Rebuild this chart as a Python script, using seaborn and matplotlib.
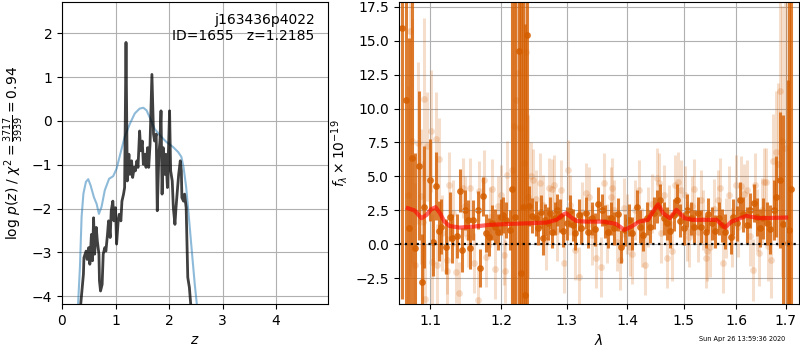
import matplotlib
matplotlib.use("Agg")
import matplotlib.pyplot as plt
import seaborn as sns
from matplotlib.ticker import MultipleLocator, ScalarFormatter, NullLocator

# --- p(z) panel -------------------------------------------------------------
z_coarse = [0.28, 0.30, 0.335, 0.366, 0.40, 0.447, 0.49, 0.534, 0.596, 0.646,
            0.69, 0.739, 0.80, 0.88, 0.957, 1.02, 1.09, 1.17, 1.27, 1.36,
            1.45, 1.52, 1.58, 1.65, 1.73, 1.83, 1.95, 2.07, 2.17, 2.23,
            2.27, 2.32, 2.37, 2.43, 2.48, 2.52, 2.55]
logpz_coarse = [-5.0, -4.19, -3.34, -2.19, -1.66, -1.39, -1.33, -1.47, -1.74, -1.89,
                -2.12, -1.96, -1.58, -1.32, -1.26, -1.09, -0.75, -0.37, -0.06, 0.17,
                0.28, 0.30, 0.24, 0.05, -0.18, -0.33, -0.48, -0.59, -0.71, -0.82,
                -1.05, -1.51, -2.19, -3.03, -3.72, -4.19, -5.0]

z_fine = [0.34, 0.35, 0.40, 0.41, 0.45, 0.47, 0.50, 0.52, 0.55, 0.57,
          0.59, 0.61, 0.64, 0.66, 0.69, 0.70, 0.72, 0.75, 0.77, 0.80,
          0.82, 0.85, 0.87, 0.90, 0.92, 0.95, 0.97, 1.00, 1.02, 1.05,
          1.07, 1.10, 1.12, 1.15, 1.17, 1.196, 1.22, 1.25, 1.27, 1.30,
          1.32, 1.35, 1.37, 1.40, 1.42, 1.45, 1.47, 1.50, 1.52, 1.55,
          1.57, 1.60, 1.62, 1.645, 1.68, 1.71, 1.73, 1.76, 1.78, 1.81,
          1.83, 1.85, 1.87, 1.89, 1.92, 1.94, 1.97, 2.01, 2.03, 2.06,
          2.08, 2.11, 2.13, 2.16, 2.18, 2.21, 2.23, 2.24, 2.27, 2.29,
          2.32, 2.35, 2.38, 2.41, 2.43]
logpz_fine = [-5.5, -4.18, -3.50, -3.12, -2.97, -3.16, -2.89, -3.27, -2.59, -3.19,
              -2.21, -3.04, -2.43, -2.74, -3.04, -3.65, -3.88, -3.73, -3.04, -2.89,
              -2.97, -2.59, -2.28, -2.66, -2.05, -1.83, -2.28, -1.98, -2.81, -2.28,
              -2.13, -2.28, -1.83, -1.67, -1.52, 1.79, -1.37, -0.76, -1.22, -0.91,
              -1.29, -1.06, -1.14, -0.91, -1.06, -0.23, -0.68, -0.46, -0.99, -0.76,
              -1.06, -0.61, -1.06, -0.53, 1.06, -0.30, -0.46, -0.30, -2.05, -0.76,
              -0.46, 0.23, -1.67, -0.61, -1.22, -0.76, -1.52, 0.23, -1.14, -1.37,
              -1.98, -2.36, -1.98, -1.52, -1.22, -0.91, -1.14, -1.75, -1.83, -1.67,
              -1.98, -3.57, -3.80, -4.26, -5.5]

# --- spectrum panel ---------------------------------------------------------
wave_dark = [1.063, 1.068, 1.071, 1.075, 1.079, 1.085, 1.089, 1.092, 1.100, 1.104,
             1.107, 1.111, 1.115, 1.121, 1.127, 1.130, 1.137, 1.140, 1.143, 1.148,
             1.152, 1.155, 1.159, 1.166, 1.169, 1.173, 1.177, 1.182, 1.186, 1.190,
             1.195, 1.199, 1.203, 1.207, 1.212, 1.215, 1.220, 1.226, 1.229, 1.232,
             1.235, 1.238, 1.242, 1.246, 1.252, 1.255, 1.259, 1.262, 1.266, 1.270,
             1.274, 1.277, 1.281, 1.284, 1.289, 1.294, 1.300, 1.305, 1.310, 1.314,
             1.319, 1.323, 1.331, 1.334, 1.341, 1.346, 1.351, 1.357, 1.362, 1.367,
             1.373, 1.378, 1.384, 1.390, 1.397, 1.403, 1.408, 1.417, 1.422, 1.427,
             1.434, 1.440, 1.446, 1.452, 1.458, 1.464, 1.470, 1.476, 1.482, 1.488,
             1.494, 1.500, 1.506, 1.514, 1.520, 1.526, 1.533, 1.541, 1.546, 1.553,
             1.559, 1.567, 1.573, 1.579, 1.589, 1.594, 1.602, 1.608, 1.614, 1.621,
             1.627, 1.635, 1.641, 1.648, 1.654, 1.661, 1.667, 1.675, 1.680, 1.689,
             1.695, 1.704, 1.708, 1.711]
flux_dark = [15.95, 10.65, 1.18, 6.35, -0.30, 5.78, -2.76, 2.73, 4.75, 0.20,
             4.31, 1.00, 1.30, -0.17, 2.04, 0.44, 0.60, 3.96, -0.42, 2.53,
             1.79, -0.30, 1.79, 2.53, -1.78, 3.52, 0.85, 0.56, 1.60, 1.30,
             0.90, 2.00, 2.16, 1.79, 1.05, 4.06, 2.00, 14.22, -2.14, 2.78,
             -3.74, 15.38, 2.83, 2.10, 1.92, 1.18, 2.41, 0.44, 1.79, 1.55,
             2.29, 0.93, 1.90, 2.53, 2.10, 1.00, 1.55, 2.45, 1.43, 0.80,
             2.16, 1.20, 2.29, 0.90, 1.92, 1.10, 3.00, 2.53, 1.67, 0.93,
             1.90, 1.18, 2.20, -0.17, 1.05, 1.79, 0.81, 2.78, 1.30, 0.70,
             1.92, 1.30, 2.29, 2.78, 3.27, 1.90, 1.55, 0.95, 2.16, 3.27,
             1.75, 1.18, 2.50, 1.92, 1.30, 2.30, 1.30, 0.93, 2.20, 1.55,
             0.95, 1.92, 1.40, 0.93, 0.56, 2.00, 1.55, 3.27, 2.20, 1.43,
             2.50, 3.02, 2.00, 1.18, 1.90, 1.55, 1.10, 2.53, 3.50, 4.75,
             1.50, 0.07, 1.06, 4.06]
err_dark = [20, 20, 14, 12, 7, 5.5, 3.5, 4.5, 3.0, 2.5,
            2.5, 2.2, 2.0, 2.0, 1.8, 1.8, 1.6, 1.6, 1.6, 1.5,
            1.5, 1.5, 1.5, 1.4, 1.4, 1.4, 1.4, 1.4, 1.3, 1.3,
            1.3, 1.3, 1.3, 1.3, 1.5, 20, 20, 20, 20, 20,
            20, 20, 1.5, 1.3, 1.3, 1.2, 1.2, 1.2, 1.2, 1.2,
            1.2, 1.2, 1.2, 1.2, 1.2, 1.2, 1.2, 1.2, 1.2, 1.2,
            1.2, 1.2, 1.2, 1.2, 1.2, 1.2, 1.2, 1.2, 1.2, 1.2,
            1.2, 1.2, 1.2, 1.2, 1.2, 1.2, 1.2, 1.2, 1.2, 1.2,
            1.2, 1.2, 1.2, 1.2, 1.2, 1.2, 1.2, 1.2, 1.2, 1.2,
            1.2, 1.2, 1.2, 1.2, 1.2, 1.2, 1.2, 1.2, 1.2, 1.2,
            1.2, 1.2, 1.2, 1.3, 1.3, 1.3, 1.3, 1.3, 1.3, 1.3,
            1.3, 1.4, 1.4, 1.4, 1.5, 1.6, 1.8, 2.2, 3.0, 5.0,
            8.0, 12, 18, 20]

wave_light = [1.070, 1.073, 1.076, 1.080, 1.083, 1.087, 1.090, 1.092, 1.093, 1.095,
              1.101, 1.102, 1.107, 1.109, 1.111, 1.116, 1.122, 1.123, 1.126, 1.131,
              1.135, 1.139, 1.145, 1.148, 1.152, 1.155, 1.160, 1.166, 1.168, 1.174,
              1.178, 1.183, 1.186, 1.191, 1.195, 1.200, 1.204, 1.205, 1.209, 1.215,
              1.219, 1.221, 1.225, 1.228, 1.233, 1.237, 1.240, 1.244, 1.248, 1.252,
              1.258, 1.262, 1.267, 1.272, 1.276, 1.280, 1.285, 1.291, 1.296, 1.302,
              1.306, 1.313, 1.319, 1.325, 1.331, 1.336, 1.341, 1.348, 1.355, 1.360,
              1.366, 1.372, 1.374, 1.377, 1.383, 1.388, 1.394, 1.399, 1.404, 1.409,
              1.414, 1.420, 1.425, 1.431, 1.437, 1.444, 1.452, 1.455, 1.459, 1.464,
              1.470, 1.474, 1.479, 1.484, 1.490, 1.496, 1.503, 1.507, 1.511, 1.515,
              1.520, 1.526, 1.532, 1.537, 1.541, 1.543, 1.550, 1.557, 1.564, 1.569,
              1.575, 1.580, 1.585, 1.592, 1.599, 1.604, 1.609, 1.616, 1.622, 1.628,
              1.633, 1.638, 1.642, 1.646, 1.651, 1.655, 1.659, 1.664, 1.670, 1.674,
              1.680, 1.684, 1.688, 1.692, 1.699, 1.703]
flux_light = [3.64, 15.7, 7.6, -1.5, 7.46, 3.52, 1.67, 10.7, -4.0, 7.21,
              8.32, -1.28, 7.75, -1.53, 6.28, 0.81, -2.0, -1.16, 4.4, 2.30,
              -2.02, -3.62, 4.13, 2.80, 0.5, 4.13, -1.40, -4.10, 3.90, 4.75,
              -0.91, 2.00, 4.10, -1.8, 2.8, 3.64, -0.79, -2.00, 5.12, 5.49,
              8.69, 10.66, 12.6, 8.57, 6.0, 14.2, 3.5, 5.0, 4.75, 3.30,
              4.50, 2.90, 0.3, 4.13, 4.10, 4.40, 1.0, 4.01, -1.40, 5.49,
              2.90, -0.42, -2.39, 2.40, 3.77, 3.50, 0.70, -1.0, -1.65, 4.50,
              0.8, 3.50, 4.13, 2.50, 0.2, -1.16, 2.7, 1.5, -0.17, -0.70,
              2.5, 4.01, 0.5, -1.53, 2.0, 3.00, 4.87, 4.50, 0.8, 3.64,
              -1.03, 2.2, -0.50, 4.38, 4.62, 4.00, 3.60, 1.0, 0.50, 2.8,
              4.10, 0.9, 3.27, 1.8, -1.03, -0.50, -0.20, 2.6, 3.27, 4.13,
              -1.40, 1.2, 3.60, 0.5, 4.38, 1.3, 4.30, 3.70, 4.00, 0.6,
              -1.90, 4.40, 1.8, -0.67, 2.50, 4.6, 4.62, -0.10, -1.16, 6.10,
              6.80, 5.9, 11.3, 7.58, 7.10, 2.0]
err_light = [8, 18, 9, 6, 6, 5, 4.5, 6, 4, 4,
             4.5, 3.5, 3.5, 3, 3, 2.8, 2.6, 2.5, 2.4, 2.4,
             2.3, 2.3, 2.2, 2.2, 2.2, 2.2, 2.2, 2.2, 2.2, 2.2,
             2.2, 2.2, 2.2, 2.2, 2.2, 2.2, 2.2, 2.3, 2.5, 12,
             20, 20, 20, 20, 20, 20, 6, 2.5, 2.3, 2.2,
             2.2, 2.2, 2.2, 2.2, 2.2, 2.2, 2.2, 2.2, 2.2, 2.2,
             2.2, 2.2, 2.2, 2.2, 2.2, 2.2, 2.2, 2.2, 2.2, 2.2,
             2.2, 2.2, 2.2, 2.2, 2.2, 2.2, 2.2, 2.2, 2.2, 2.2,
             2.2, 2.2, 2.2, 2.2, 2.2, 2.2, 2.2, 2.2, 2.2, 2.2,
             2.2, 2.2, 2.2, 2.2, 2.2, 2.2, 2.2, 2.2, 2.2, 2.2,
             2.2, 2.2, 2.2, 2.2, 2.2, 2.2, 2.2, 2.2, 2.2, 2.2,
             2.2, 2.2, 2.2, 2.2, 2.2, 2.2, 2.2, 2.2, 2.2, 2.2,
             2.3, 2.3, 2.3, 2.4, 2.4, 2.5, 2.5, 2.6, 2.8, 3.5,
             4.5, 6, 8, 10, 14, 18]

model_wave = [1.070, 1.079, 1.088, 1.095, 1.101, 1.107, 1.113, 1.119, 1.126, 1.140,
              1.159, 1.183, 1.212, 1.242, 1.268, 1.284, 1.294, 1.299, 1.304, 1.315,
              1.331, 1.359, 1.381, 1.395, 1.407, 1.421, 1.436, 1.445, 1.454, 1.463,
              1.475, 1.487, 1.493, 1.502, 1.517, 1.562, 1.578, 1.591, 1.620, 1.646,
              1.701]
model_flux = [2.66, 2.49, 1.92, 2.17, 2.58, 2.73, 2.29, 1.67, 1.35, 1.23,
              1.30, 1.43, 1.50, 1.55, 1.60, 1.80, 2.17, 2.29, 2.09, 1.72,
              1.67, 1.67, 1.50, 1.06, 1.30, 1.67, 1.80, 2.41, 2.95, 2.29,
              1.92, 2.54, 2.29, 1.92, 1.80, 1.80, 1.23, 1.67, 2.09, 1.92,
              1.97]

GRISM_COLOR = (0.835, 0.369, 0.0)

fig = plt.figure(figsize=(8, 3.5), dpi=100)
ax1 = fig.add_axes([0.0775, 0.131, 0.3325, 0.863])
ax2 = fig.add_axes([0.49875, 0.131, 0.5, 0.863])

# left: log p(z)
sns.lineplot(x=z_coarse, y=logpz_coarse, ax=ax1, color="C0", alpha=0.5,
             lw=1.5, sort=False, estimator=None)
sns.lineplot(x=z_fine, y=logpz_fine, ax=ax1, color="k", alpha=0.75,
             lw=2, sort=False, estimator=None)
ax1.set_xlim(0, 4.97)
ax1.set_ylim(-4.18, 2.71)
ax1.set_xticks([0, 1, 2, 3, 4])
ax1.set_yticks([-4, -3, -2, -1, 0, 1, 2])
ax1.grid(True)
ax1.set_xlabel(r"$z$")
ax1.set_ylabel(r"log $p(z)$ / $\chi^2=\frac{3717}{3939}=0.94$")
ax1.text(0.95, 0.965, "j163436p4022\nID=1655   z=1.2185", ha="right", va="top",
         transform=ax1.transAxes, fontsize=10)

# right: spectrum
ax2.errorbar(wave_light, flux_light, yerr=err_light, fmt="none",
             ecolor=GRISM_COLOR, alpha=0.2, elinewidth=2.2)
sns.scatterplot(x=wave_light, y=flux_light, ax=ax2, color=GRISM_COLOR,
                alpha=0.2, s=24, linewidth=0)
ax2.errorbar(wave_dark, flux_dark, yerr=err_dark, fmt="none",
             ecolor=GRISM_COLOR, alpha=0.8, elinewidth=2.2)
sns.scatterplot(x=wave_dark, y=flux_dark, ax=ax2, color=GRISM_COLOR,
                alpha=0.85, s=24, linewidth=0)
sns.lineplot(x=model_wave, y=model_flux, ax=ax2, color="r", alpha=0.6,
             lw=3, sort=False, estimator=None)
ax2.axhline(0, color="k", ls=":", lw=1.6)

ax2.set_xscale("log")
ax2.set_xlim(1.0585, 1.728)
ax2.set_ylim(-4.41, 17.84)
ax2.set_xticks([1.1, 1.2, 1.3, 1.4, 1.5, 1.6, 1.7])
ax2.xaxis.set_major_formatter(ScalarFormatter())
ax2.xaxis.set_minor_locator(NullLocator())
ax2.yaxis.set_major_locator(MultipleLocator(2.5))
ax2.grid(True)
ax2.set_xlabel(r"$\lambda$")
ax2.set_ylabel(r"$f_\lambda\times10^{-19}$")

fig.text(0.928, 0.031, "Sun Apr 26 13:59:36 2020", ha="center", va="center",
         fontsize=4.7)

fig.savefig("out.png", dpi=100)
